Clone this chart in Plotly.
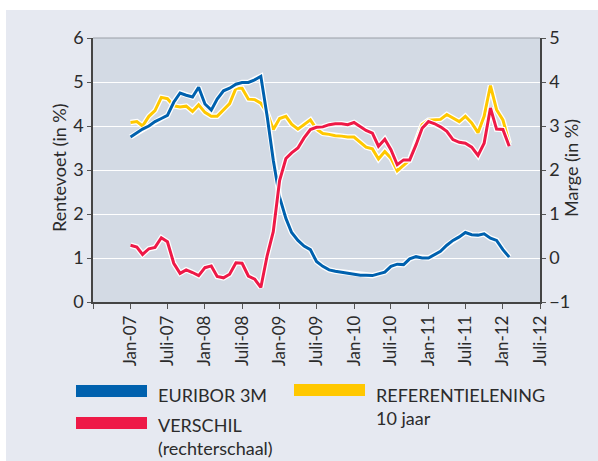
import pandas as pd
import plotly.graph_objects as go

# ---- data ----
months = pd.date_range("2007-01-01", periods=62, freq="MS")

euribor_3m = [3.75, 3.84, 3.93, 4.00, 4.10, 4.17, 4.24, 4.54, 4.75, 4.70,
              4.66, 4.88, 4.50, 4.36, 4.61, 4.80, 4.86, 4.95, 4.99, 4.99,
              5.05, 5.13, 4.22, 3.22, 2.38, 1.90, 1.58, 1.40, 1.27, 1.19,
              0.92, 0.81, 0.73, 0.70, 0.68, 0.66, 0.64, 0.61, 0.61, 0.60,
              0.64, 0.68, 0.81, 0.86, 0.85, 0.98, 1.03, 1.00, 1.00, 1.08,
              1.15, 1.29, 1.40, 1.48, 1.58, 1.53, 1.52, 1.55, 1.45, 1.40,
              1.19, 1.02]

referentielening_10j = [4.08, 4.10, 4.00, 4.22, 4.35, 4.65, 4.62, 4.46, 4.43, 4.45,
                        4.33, 4.48, 4.31, 4.22, 4.22, 4.37, 4.51, 4.86, 4.86, 4.61,
                        4.60, 4.52, 4.30, 3.92, 4.17, 4.22, 4.04, 3.93, 4.03, 4.14,
                        3.93, 3.83, 3.81, 3.78, 3.77, 3.75, 3.75, 3.63, 3.52, 3.48,
                        3.25, 3.42, 3.27, 2.98, 3.10, 3.23, 3.65, 4.03, 4.13, 4.14,
                        4.15, 4.26, 4.18, 4.10, 4.22, 4.07, 3.85, 4.22, 4.92, 4.37,
                        4.14, 3.61]

verschil = [0.29, 0.25, 0.08, 0.21, 0.24, 0.46, 0.37, -0.12, -0.35, -0.27,
            -0.33, -0.40, -0.22, -0.18, -0.42, -0.45, -0.37, -0.11, -0.12, -0.41,
            -0.48, -0.67, 0.05, 0.60, 1.76, 2.26, 2.39, 2.50, 2.73, 2.92,
            2.97, 2.98, 3.03, 3.05, 3.05, 3.03, 3.08, 2.99, 2.90, 2.84,
            2.54, 2.70, 2.46, 2.12, 2.23, 2.23, 2.57, 2.95, 3.10, 3.05,
            2.98, 2.88, 2.69, 2.63, 2.61, 2.52, 2.33, 2.61, 3.41, 2.93,
            2.92, 2.54]

tick_dates = pd.date_range("2006-07-01", "2012-07-01", freq="6MS")
tick_labels = ["", "Jan-07", "Juli-07", "Jan-08", "Juli-08", "Jan-09", "Juli-09",
               "Jan-10", "Juli-10", "Jan-11", "Juli-11", "Jan-12", "Juli-12"]

legend_labels = ["EURIBOR 3M", "REFERENTIELENING<br>10 jaar", "VERSCHIL<br>(rechterschaal)"]

BLUE = "#0061AE"
YELLOW = "#FFC800"
RED = "#EE1947"
PANEL = "#E6E9F1"
PLOTBG = "#D3DAE4"
FONT = "Lato"
TXT = "#2b2b2b"

fig = go.Figure()

def add_line(y, color, axis):
    fig.add_trace(go.Scatter(x=months, y=y, mode="lines", yaxis=axis,
                             line=dict(color="white", width=5.5), showlegend=False,
                             hoverinfo="skip"))
    fig.add_trace(go.Scatter(x=months, y=y, mode="lines", yaxis=axis,
                             line=dict(color=color, width=3), showlegend=False))

add_line(referentielening_10j, YELLOW, "y")
add_line(euribor_3m, BLUE, "y")
add_line(verschil, RED, "y2")

W, H = 598, 461
L, R, T, B = 93, 58, 38, 159
pw, ph = W - L - R, H - T - B

def px(x):
    return (x - L) / pw

def py(y):
    return (H - B - y) / ph

shapes = [
    # white strips at top and left of the figure
    dict(type="rect", xref="paper", yref="paper", x0=px(-5), x1=px(W + 5),
         y0=py(10), y1=py(-5), fillcolor="white", line=dict(width=0), layer="below"),
    dict(type="rect", xref="paper", yref="paper", x0=px(-5), x1=px(6),
         y0=py(H + 5), y1=py(-5), fillcolor="white", line=dict(width=0), layer="below"),
    # top border of plot area
    dict(type="line", xref="paper", yref="paper", x0=0, x1=1, y0=1, y1=1,
         line=dict(color="#9a9ea6", width=1)),
]

# legend swatches
swatches = [(76, 147, 385, 397, BLUE), (294, 365, 384, 396, YELLOW), (76, 147, 417, 429, RED)]
for x0, x1, y0, y1, c in swatches:
    shapes.append(dict(type="rect", xref="paper", yref="paper", x0=px(x0), x1=px(x1),
                       y0=py(y1), y1=py(y0), fillcolor=c, line=dict(width=0)))

annotations = [
    dict(text="Rentevoet (in %)", xref="paper", yref="paper", x=px(46), y=py(168),
         textangle=-90, showarrow=False, font=dict(size=18, color=TXT, family=FONT)),
    dict(text="Marge (in %)", xref="paper", yref="paper", x=px(584), y=py(168),
         textangle=-90, showarrow=False, font=dict(size=18, color=TXT, family=FONT)),
]
legend_pos = [(156, 382), (374, 382), (156, 412)]
for (lx, ly), lab in zip(legend_pos, legend_labels):
    annotations.append(dict(text=lab, xref="paper", yref="paper", x=px(lx), y=py(ly),
                            xanchor="left", yanchor="top", align="left", showarrow=False,
                            font=dict(size=18, color=TXT, family=FONT)))

fig.update_layout(
    width=W, height=H,
    margin=dict(l=L, r=R, t=T, b=B),
    paper_bgcolor=PANEL,
    plot_bgcolor=PLOTBG,
    font=dict(family=FONT, size=15, color=TXT),
    showlegend=False,
    shapes=shapes,
    annotations=annotations,
    xaxis=dict(type="date", range=["2006-07-01", "2012-07-01"],
               tickvals=tick_dates, ticktext=tick_labels, tickangle=-90,
               ticks="outside", ticklen=5, tickcolor="#555", showgrid=False,
               showline=True, linecolor="#444", linewidth=1.5,
               tickfont=dict(size=17, family=FONT, color=TXT), zeroline=False),
    yaxis=dict(range=[0, 6], tickvals=[0, 1, 2, 3, 4, 5, 6], ticks="outside", ticklen=4,
               tickcolor="#555", showline=True, linecolor="#444", linewidth=1.5,
               showgrid=True, gridcolor="white", gridwidth=1.2, zeroline=False,
               tickfont=dict(size=18, family=FONT, color=TXT)),
    yaxis2=dict(range=[-1, 5], tickvals=[-1, 0, 1, 2, 3, 4, 5], overlaying="y", side="right",
                ticks="outside", ticklen=4, tickcolor="#555", showline=True, linecolor="#444",
                linewidth=1.5, showgrid=False, zeroline=False,
                tickfont=dict(size=18, family=FONT, color=TXT)),
)

fig.write_html("out.html", config={"displayModeBar": False},
               post_script="document.body.style.margin='0';")
